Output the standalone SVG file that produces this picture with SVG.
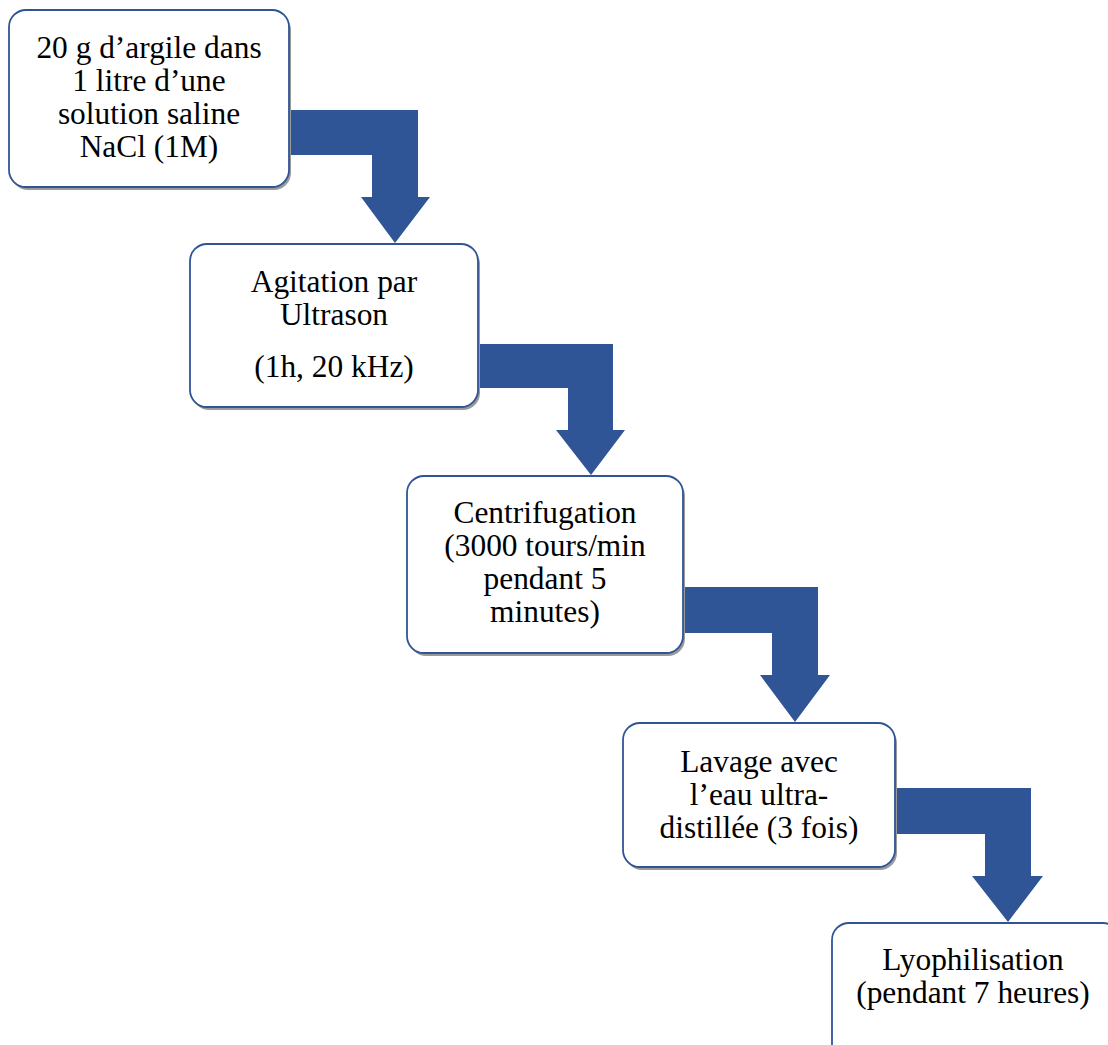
<svg xmlns="http://www.w3.org/2000/svg" width="1108" height="1045" viewBox="0 0 1108 1045">
<style>
.box{fill:#ffffff;stroke:#2F5597;stroke-width:1.8}
.shadow{fill:#9a9a9a}
.arrow{fill:#2F5597;stroke:none}
.t{font-family:'Liberation Serif','Times New Roman',serif;font-size:31.4px;fill:#000;text-anchor:middle}
</style>
<rect width="1108" height="1045" fill="#ffffff"/>
<g id="connectors">
<polygon class="arrow" points="286,110 418,110 418,197 430,197 395,243 361,197 372,197 372,155 286,155"/>
<polygon class="arrow" points="475,344 613,344 613,430 625,430 591,475 556,430 568,430 568,388 475,388"/>
<polygon class="arrow" points="680,587 818,587 818,675 830,675 795,722 760,675 772,675 772,633 680,633"/>
<polygon class="arrow" points="892,788 1031,788 1031,876 1043,876 1008,922 972,876 985,876 985,834 892,834"/>
</g>
<g id="node1">
<rect class="shadow" x="11" y="13" width="280" height="177" rx="17"/>
<rect class="box" x="9" y="10" width="280" height="177" rx="17"/>
<g class="t">
<text x="149" y="58">20 g d’argile dans</text>
<text x="149" y="91">1 litre d’une</text>
<text x="149" y="124">solution saline</text>
<text x="149" y="157">NaCl (1M)</text>
</g>
</g>
<g id="node2">
<rect class="shadow" x="192" y="247" width="288" height="163" rx="17"/>
<rect class="box" x="190" y="244" width="288" height="163" rx="17"/>
<g class="t">
<text x="334" y="292">Agitation par</text>
<text x="334" y="325">Ultrason</text>
<text x="334" y="377">(1h, 20 kHz)</text>
</g>
</g>
<g id="node3">
<rect class="shadow" x="409" y="479" width="276" height="177" rx="17"/>
<rect class="box" x="407" y="476" width="276" height="177" rx="17"/>
<g class="t">
<text x="545" y="523">Centrifugation</text>
<text x="545" y="556">(3000 tours/min</text>
<text x="545" y="589">pendant 5</text>
<text x="545" y="622">minutes)</text>
</g>
</g>
<g id="node4">
<rect class="shadow" x="625" y="726" width="272" height="144" rx="17"/>
<rect class="box" x="623" y="723" width="272" height="144" rx="17"/>
<g class="t">
<text x="759" y="772">Lavage avec</text>
<text x="759" y="805">l’eau ultra-</text>
<text x="759" y="838">distillée (3 fois)</text>
</g>
</g>
<g id="node5">
<rect class="box" x="832" y="923" width="288" height="150" rx="17"/>
<g class="t">
<text x="973" y="970">Lyophilisation</text>
<text x="973" y="1003">(pendant 7 heures)</text>
</g>
</g>
</svg>
